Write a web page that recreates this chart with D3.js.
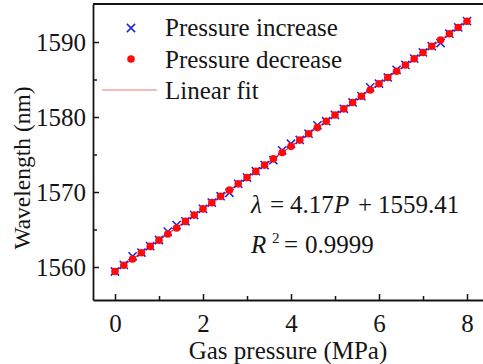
<!DOCTYPE html>
<html>
<head>
<meta charset="utf-8">
<script src="https://cdn.jsdelivr.net/npm/d3@7"></script>
<style>
  html, body { margin: 0; padding: 0; background: #fff; }
  svg { display: block; }
</style>
</head>
<body>
<svg id="chart" width="483" height="364"></svg>
<script>
// Gas pressure steps (MPa)
const pressure = [0, 0.2, 0.4, 0.6, 0.8, 1.0, 1.2, 1.4, 1.6, 1.8, 2.0, 2.2, 2.4, 2.6, 2.8, 3.0, 3.2, 3.4, 3.6, 3.8,
  4.0, 4.2, 4.4, 4.6, 4.8, 5.0, 5.2, 5.4, 5.6, 5.8, 6.0, 6.2, 6.4, 6.6, 6.8, 7.0, 7.2, 7.4, 7.6, 7.8, 8.0];

// Resonance wavelength (nm) while the pressure is raised
const increaseWl = [1559.40, 1560.27, 1561.43, 1561.93, 1562.77, 1563.60, 1564.72, 1565.60, 1566.10, 1566.93,
  1567.76, 1568.60, 1569.44, 1569.90, 1571.10, 1571.93, 1572.77, 1573.60, 1574.24, 1575.56,
  1576.44, 1576.94, 1577.77, 1578.90, 1579.44, 1580.27, 1581.10, 1581.94, 1582.78, 1583.95,
  1584.44, 1585.27, 1586.30, 1586.94, 1587.78, 1588.61, 1589.44, 1589.87, 1591.11, 1591.95, 1592.78];

// Resonance wavelength (nm) while the pressure is released
const decreaseWl = [1559.41, 1560.24, 1561.06, 1561.91, 1562.75, 1563.58, 1564.40, 1565.20, 1566.08, 1566.92,
  1567.75, 1568.58, 1569.42, 1570.25, 1571.09, 1571.92, 1572.75, 1573.59, 1574.42, 1575.26,
  1576.09, 1576.92, 1577.76, 1578.59, 1579.43, 1580.26, 1581.09, 1581.93, 1582.76, 1583.60,
  1584.43, 1585.26, 1586.10, 1586.93, 1587.77, 1588.60, 1589.43, 1590.27, 1591.10, 1591.94, 1592.77];

// Linear fit coefficients: λ = slope·P + intercept
const fitSlope = 4.17;
const fitIntercept = 1559.41;
const fitRange = [0, 8];

const xTicks = [0, 2, 4, 6, 8];
const xMinorTicks = [1, 3, 5, 7];
const yTicks = [1560, 1570, 1580, 1590];
const yMinorTicks = [1565, 1575, 1585];

const legendLabels = ["Pressure increase", "Pressure decrease", "Linear fit"];

(function draw() {
  const FONT = '"Liberation Serif", "Times New Roman", Times, serif';
  const svg = d3.select("#chart").style("font-family", FONT);
  const plotLeft = 93, plotRight = 489, plotTop = 4, plotBottom = 300;

  const x = d3.scaleLinear().domain([-0.5, 8.5]).range([plotLeft, plotRight]);
  const y = d3.scaleLinear().domain([1555.6, 1595.07]).range([plotBottom, plotTop]);

  const blue = "#1f1fe6";
  const red = "#ff0a0a";
  const ink = "#151515";

  const addText = (parent, size) => parent.append("text")
    .attr("font-family", FONT).attr("font-size", size).attr("fill", ink);

  // Fit line
  svg.append("line")
    .attr("x1", x(fitRange[0])).attr("y1", y(fitSlope * fitRange[0] + fitIntercept))
    .attr("x2", x(fitRange[1])).attr("y2", y(fitSlope * fitRange[1] + fitIntercept))
    .attr("stroke", "#e23a4a").attr("stroke-width", 1.2);

  // Pressure increase: blue crosses
  const cross = 4.1;
  const crossPath = (cx, cy) =>
    `M${cx - cross},${cy - cross}L${cx + cross},${cy + cross}M${cx - cross},${cy + cross}L${cx + cross},${cy - cross}`;
  svg.append("g").selectAll("path")
    .data(pressure)
    .join("path")
    .attr("d", (d, i) => crossPath(x(d), y(increaseWl[i])))
    .attr("stroke", blue).attr("stroke-width", 1.5).attr("fill", "none");

  // Pressure decrease: red dots
  svg.append("g").selectAll("circle")
    .data(pressure)
    .join("circle")
    .attr("cx", d => x(d))
    .attr("cy", (d, i) => y(decreaseWl[i]))
    .attr("r", 3.8)
    .attr("fill", red);

  // Axes with inward ticks
  const xAxis = svg.append("g").attr("transform", `translate(0,${plotBottom})`)
    .call(d3.axisBottom(x).tickValues(xTicks).tickSizeInner(-6).tickSizeOuter(0).tickPadding(10).tickFormat(d3.format("d")));
  const yAxis = svg.append("g").attr("transform", `translate(${plotLeft},0)`)
    .call(d3.axisLeft(y).tickValues(yTicks).tickSizeInner(-6).tickSizeOuter(0).tickPadding(7).tickFormat(d3.format("d")));

  [xAxis, yAxis].forEach(g => {
    g.attr("font-family", FONT).attr("font-size", 25);
    g.select(".domain").attr("stroke", ink).attr("stroke-width", 1.8);
    g.selectAll(".tick line").attr("stroke", ink).attr("stroke-width", 1.5);
    g.selectAll(".tick text").attr("fill", ink);
  });
  xAxis.selectAll(".tick text").attr("y", 0).attr("dy", 0).attr("transform", "translate(0,32)");
  yAxis.selectAll(".tick text").attr("dy", "0.34em");

  svg.append("g").attr("transform", `translate(0,${plotBottom})`)
    .call(d3.axisBottom(x).tickValues(xMinorTicks).tickSizeInner(-4).tickSizeOuter(0).tickFormat(""))
    .call(g => g.select(".domain").remove())
    .call(g => g.selectAll(".tick line").attr("stroke", ink).attr("stroke-width", 1.5));
  svg.append("g").attr("transform", `translate(${plotLeft},0)`)
    .call(d3.axisLeft(y).tickValues(yMinorTicks).tickSizeInner(-4).tickSizeOuter(0).tickFormat(""))
    .call(g => g.select(".domain").remove())
    .call(g => g.selectAll(".tick line").attr("stroke", ink).attr("stroke-width", 1.5));

  // Top frame line
  svg.append("line")
    .attr("x1", plotLeft).attr("y1", plotTop).attr("x2", plotRight).attr("y2", plotTop)
    .attr("stroke", ink).attr("stroke-width", 1.8);

  // Axis titles
  addText(svg, 25)
    .attr("x", 288).attr("y", 359)
    .attr("text-anchor", "middle")
    .text("Gas pressure (MPa)");

  addText(svg, 23.5)
    .attr("transform", `translate(30,168) rotate(-90)`)
    .attr("text-anchor", "middle")
    .text("Wavelength (nm)");

  // Legend
  const lg = svg.append("g");
  lg.append("path")
    .attr("d", crossPath(131, 28))
    .attr("stroke", blue).attr("stroke-width", 1.5);
  lg.append("circle").attr("cx", 131).attr("cy", 59).attr("r", 3.8).attr("fill", red);
  lg.append("line").attr("x1", 102).attr("x2", 157).attr("y1", 90).attr("y2", 90)
    .attr("stroke", "#ee7a7a").attr("stroke-width", 1.2);
  legendLabels.forEach((t, i) => {
    addText(lg, 25)
      .attr("x", 165).attr("y", 36 + i * 31.5)
      .text(t);
  });

  // Fit equation
  const eq = addText(svg, 25).attr("y", 213);
  eq.append("tspan").attr("x", 251).attr("font-style", "italic").text("λ");
  eq.append("tspan").attr("x", 270).text("=");
  eq.append("tspan").attr("x", 290).text("4.17");
  eq.append("tspan").attr("x", 334).attr("font-style", "italic").text("P");
  eq.append("tspan").attr("x", 358).text("+");
  eq.append("tspan").attr("x", 378).text("1559.41");

  const r2 = addText(svg, 25).attr("y", 253);
  r2.append("tspan").attr("x", 251).attr("font-style", "italic").text("R");
  r2.append("tspan").attr("x", 272).attr("y", 243).attr("font-size", 15).text("2");
  r2.append("tspan").attr("x", 284).attr("y", 253).text("=");
  r2.append("tspan").attr("x", 305).text("0.9999");
})();
</script>
</body>
</html>
